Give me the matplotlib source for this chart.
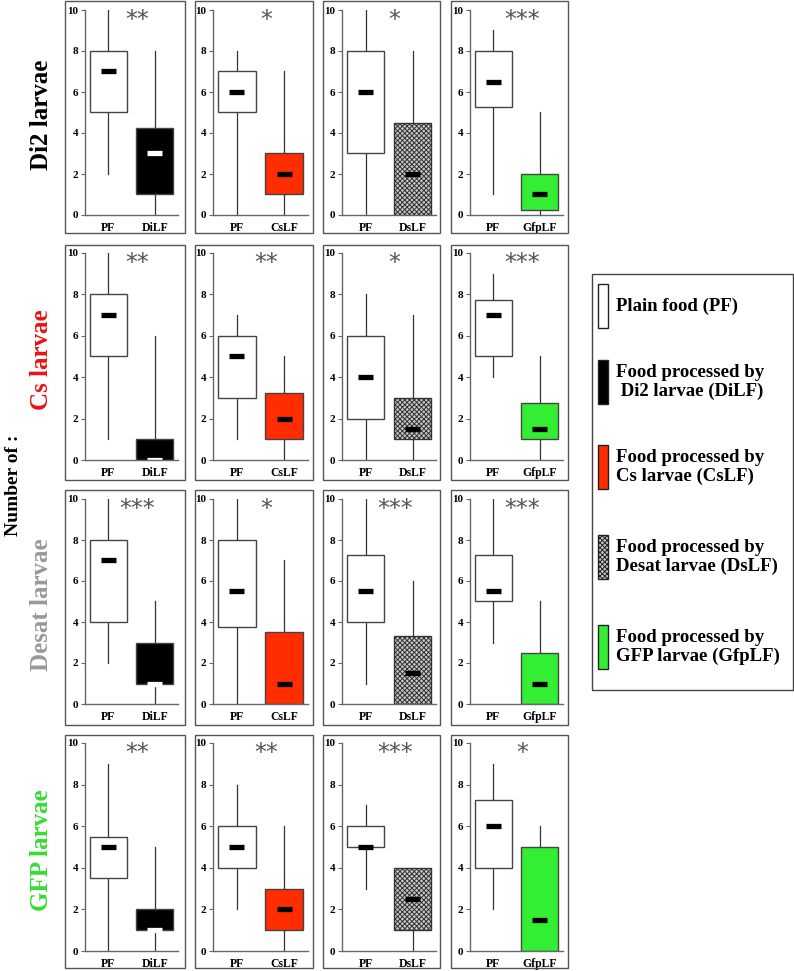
import matplotlib
matplotlib.use("Agg")
import matplotlib.pyplot as plt
from matplotlib.patches import Rectangle

plt.rcParams['font.family'] = ['Liberation Serif', 'DejaVu Serif']
plt.rcParams['hatch.linewidth'] = 0.7
plt.rcParams['hatch.color'] = '#222222'

# ---------------- data ----------------
larvae = ['Di2 larvae', 'Cs larvae', 'Desat larvae', 'GFP larvae']
larvae_colors = ['#000000', '#ee1111', '#999999', '#33dd33']
treatments = ['DiLF', 'CsLF', 'DsLF', 'GfpLF']

# Plain food (PF) box statistics: rows = larvae, cols = treatment
pf_min = [[2, 0, 0, 1], [1, 1, 0, 4], [2, 0, 1, 3], [0, 2, 3, 2]]
pf_q1 = [[5, 5, 3, 5.25], [5, 3, 2, 5], [4, 3.75, 4, 5], [3.5, 4, 5, 4]]
pf_med = [[7, 6, 6, 6.5], [7, 5, 4, 7], [7, 5.5, 5.5, 5.5], [5, 5, 5, 6]]
pf_q3 = [[8, 7, 8, 8], [8, 6, 6, 7.75], [8, 8, 7.25, 7.25], [5.5, 6, 6, 7.25]]
pf_max = [[10, 8, 10, 9], [10, 7, 8, 9], [10, 10, 10, 10], [9, 8, 7, 9]]

# Processed food box statistics
tr_min = [[0, 0, 0, 0], [0, 0, 0, 0], [0, 0, 0, 0], [0, 0, 0, 0]]
tr_q1 = [[1, 1, 0, 0.25], [0, 1, 1, 1], [1, 0, 0, 0], [1, 1, 1, 0]]
tr_med = [[3, 2, 2, 1], [0, 2, 1.5, 1.5], [1, 1, 1.5, 1], [1, 2, 2.5, 1.5]]
tr_q3 = [[4.25, 3, 4.5, 2], [1, 3.25, 3, 2.75], [3, 3.5, 3.3, 2.5], [2, 3, 4, 5]]
tr_max = [[8, 7, 8, 5], [6, 5, 7, 5], [5, 7, 6, 5], [5, 6, 4, 6]]

stars = [['**', '*', '*', '***'],
         ['**', '**', '*', '***'],
         ['***', '*', '***', '***'],
         ['**', '**', '***', '*']]

legend_labels = ['Plain food (PF)',
                 'Food processed by\n Di2 larvae (DiLF)',
                 'Food processed by\nCs larvae (CsLF)',
                 'Food processed by\nDesat larvae (DsLF)',
                 'Food processed by\nGFP larvae (GfpLF)']

# ---------------- styles ----------------
fill_colors = ['#000000', '#ff2d00', '#c8c8c8', '#33ee33']
hatches = [None, None, 'xxxxxxx', None]
median_colors = ['#ffffff', '#000000', '#000000', '#000000']
edge = '#444444'

W, H = 794, 971
fig = plt.figure(figsize=(W / 100, H / 100), dpi=100)


def fx(px):
    return px / W


def fy(py):
    return 1 - py / H


cols_outer = [(65, 185), (195, 313), (323, 440), (451, 568)]
cols_axes = [(85, 178), (213, 308), (342, 436), (470, 563)]
rows_outer = [(1, 233), (245, 480), (490, 725), (735, 968)]
rows_axes = [(10, 215), (253, 460), (499, 704), (743, 951)]

for r in range(4):
    for c in range(4):
        ox0, ox1 = cols_outer[c]
        oy0, oy1 = rows_outer[r]
        fig.add_artist(Rectangle((fx(ox0), fy(oy1)), fx(ox1 - ox0), (oy1 - oy0) / H,
                                 transform=fig.transFigure, fill=False,
                                 edgecolor='#555555', lw=1.0))
        ax0, ax1 = cols_axes[c]
        ay0, ay1 = rows_axes[r]
        ax = fig.add_axes([fx(ax0), fy(ay1), fx(ax1 - ax0), (ay1 - ay0) / H])
        stats = [
            dict(whislo=pf_min[r][c], q1=pf_q1[r][c], med=pf_med[r][c],
                 q3=pf_q3[r][c], whishi=pf_max[r][c], fliers=[]),
            dict(whislo=tr_min[r][c], q1=tr_q1[r][c], med=tr_med[r][c],
                 q3=tr_q3[r][c], whishi=tr_max[r][c], fliers=[]),
        ]
        bp = ax.bxp(stats, positions=[1, 2], widths=0.8, showcaps=False,
                    showfliers=False, patch_artist=True,
                    whiskerprops=dict(color='#333333', lw=0.9),
                    medianprops=dict(visible=False),
                    boxprops=dict(edgecolor=edge, lw=1.0))
        bp['boxes'][0].set_facecolor('white')
        bp['boxes'][1].set_facecolor(fill_colors[c])
        if hatches[c]:
            bp['boxes'][1].set_hatch(hatches[c])
            bp['boxes'][1].set_edgecolor('#333333')
        for w in bp['whiskers']:
            w.set_zorder(1)
        for b in bp['boxes']:
            b.set_zorder(2)
        ax.hlines(pf_med[r][c], 1 - 0.16, 1 + 0.16, color='black', lw=3.8, zorder=3)
        ax.hlines(tr_med[r][c], 2 - 0.16, 2 + 0.16, color=median_colors[c], lw=3.8, zorder=3)

        ax.set_xlim(0.5, 2.5)
        ax.set_ylim(0, 10)
        ax.set_yticks([0, 2, 4, 6, 8, 10])
        ax.set_yticklabels(['0', '2', '4', '6', '8', '10'])
        ax.set_xticks([1, 2])
        ax.set_xticklabels(['PF', treatments[c]])
        for s in ['top', 'right']:
            ax.spines[s].set_visible(False)
        for s in ['left', 'bottom']:
            ax.spines[s].set_color('#666666')
            ax.spines[s].set_linewidth(1.0)
            ax.spines[s].set_zorder(4)
        ax.tick_params(axis='y', length=3, width=0.8, color='#666666', pad=2,
                       labelsize=8)
        ax.tick_params(axis='x', length=0, pad=5, labelsize=8.5)
        for lab in ax.get_xticklabels() + ax.get_yticklabels():
            lab.set_fontweight('bold')
        ax.patch.set_alpha(0)
        ax.text(0.56, 0.95, stars[r][c], transform=ax.transAxes, ha='center',
                va='center', fontsize=17, color='#555555', clip_on=False,
                family=['DejaVu Sans'])

# row labels
row_centers = [115, 360, 605, 850]
for lbl, col, yc in zip(larvae, larvae_colors, row_centers):
    fig.text(fx(42), fy(yc), lbl, rotation=90, ha='center', va='center',
             fontsize=18, fontweight='bold', color=col)
fig.text(fx(14), fy(485), 'Number of :', rotation=90, ha='center', va='center',
         fontsize=14, fontweight='bold', color='black')

# legend box
lx0, ly0, lx1, ly1 = 592, 274, 793, 690
fig.add_artist(Rectangle((fx(lx0), fy(ly1)), fx(lx1 - lx0), (ly1 - ly0) / H,
                         transform=fig.transFigure, fill=False,
                         edgecolor='#444444', lw=1.0))
leg_y = [306, 382, 467, 557, 647]
leg_fill = ['#ffffff'] + fill_colors
leg_hatch = [None] + hatches
for lab, yc, fc, ht in zip(legend_labels, leg_y, leg_fill, leg_hatch):
    p = Rectangle((fx(598), fy(yc + 22)), fx(10), 44 / H, transform=fig.transFigure,
                  facecolor=fc, edgecolor='#222222', lw=1.0, hatch=ht)
    fig.add_artist(p)
    fig.text(fx(616), fy(yc), lab, ha='left', va='center', fontsize=13.5,
             fontweight='bold', color='black', linespacing=1.1)

fig.savefig('out.png', dpi=100)
